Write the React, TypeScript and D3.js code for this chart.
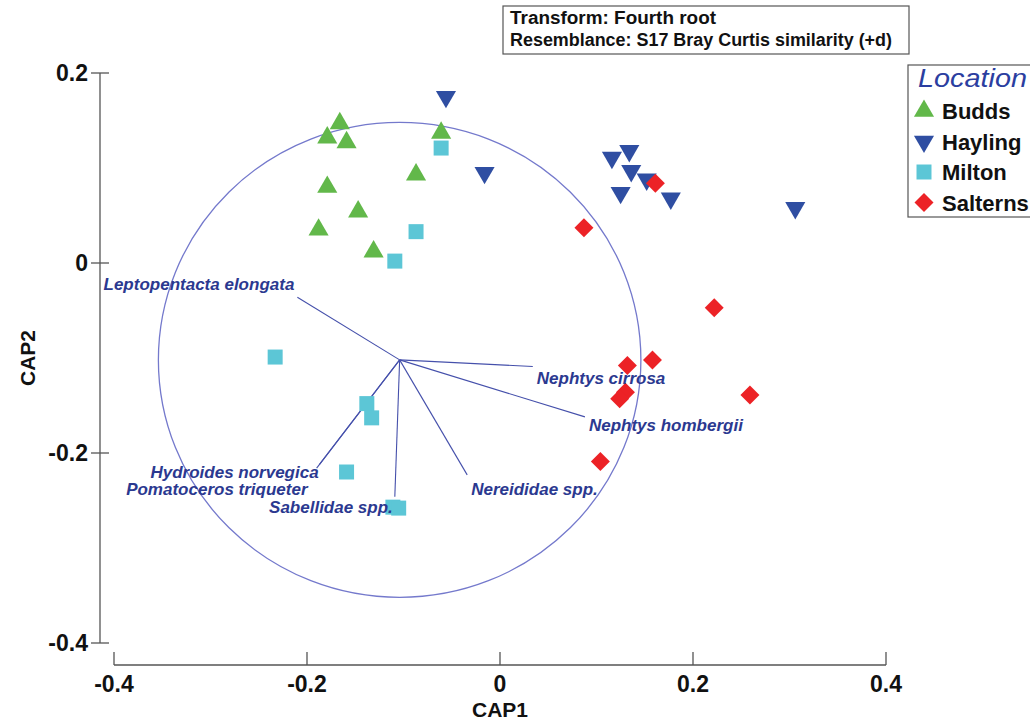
import React from "react";
import * as d3 from "d3";

// ---- data ----
const buddsX = [-0.166, -0.179, -0.159, -0.179, -0.147, -0.188, -0.131, -0.087, -0.061];
const buddsY = [0.147, 0.132, 0.127, 0.080, 0.054, 0.035, 0.012, 0.093, 0.137];
const haylingX = [-0.056, -0.016, 0.116, 0.134, 0.136, 0.152, 0.125, 0.177, 0.306];
const haylingY = [0.175, 0.095, 0.111, 0.118, 0.097, 0.088, 0.074, 0.068, 0.058];
const miltonX = [-0.061, -0.087, -0.109, -0.233, -0.138, -0.133, -0.159, -0.111, -0.105];
const miltonY = [0.121, 0.033, 0.002, -0.099, -0.148, -0.163, -0.220, -0.257, -0.258];
const salternsX = [0.161, 0.087, 0.222, 0.158, 0.132, 0.130, 0.124, 0.259, 0.104];
const salternsY = [0.084, 0.037, -0.047, -0.102, -0.108, -0.136, -0.143, -0.139, -0.209];

const locations = ["Budds", "Hayling", "Milton", "Salterns"];

const vectorOrigin = [-0.104, -0.102];
const circleRadius = 0.25;
const speciesNames = [
  "Leptopentacta elongata",
  "Nephtys cirrosa",
  "Nephtys hombergii",
  "Nereididae spp.",
  "Sabellidae spp.",
  "Hydroides norvegica",
  "Pomatoceros triqueter",
];
const speciesX = [-0.210, 0.034, 0.088, -0.034, -0.109, -0.190, -0.187];
const speciesY = [-0.036, -0.109, -0.162, -0.223, -0.246, -0.216, -0.212];

const xTicks = [-0.4, -0.2, 0, 0.2, 0.4];
const yTicks = [-0.4, -0.2, 0, 0.2];
const infoLines = ["Transform: Fourth root", "Resemblance: S17 Bray Curtis similarity (+d)"];

// ---- styling ----
const colors: Record<string, string> = {
  Budds: "#62b84a",
  Hayling: "#2f4ea2",
  Milton: "#5cc6d6",
  Salterns: "#ec2226",
};
const FONT = "'Liberation Sans', Arial, Helvetica, sans-serif";
const VEC = "#4550ab";
const LABEL = "#2b3990";

// label placement relative to vector tip (px): dx, dy, anchor
const labelOffsets: [number, number, string][] = [
  [-3, -7, "end"],
  [4, 17, "start"],
  [4, 14, "start"],
  [4, 20, "start"],
  [-2, 16, "end"],
  [2, 10, "end"],
  [-12, 31, "end"],
];

function markerPath(loc: string): { d: string; rot: number } {
  if (loc === "Budds") return { d: d3.symbol(d3.symbolTriangle, 175)() as string, rot: 0 };
  if (loc === "Hayling") return { d: d3.symbol(d3.symbolTriangle, 175)() as string, rot: 180 };
  if (loc === "Milton") return { d: d3.symbol(d3.symbolSquare, 225)() as string, rot: 0 };
  return { d: d3.symbol(d3.symbolSquare, 180)() as string, rot: 45 };
}

export default function App() {
  const x = d3.scaleLinear().domain([-0.4, 0.4]).range([114, 886]);
  const y = d3.scaleLinear().domain([-0.4, 0.2]).range([643, 73]);

  const series = [
    { loc: "Budds", xs: buddsX, ys: buddsY },
    { loc: "Hayling", xs: haylingX, ys: haylingY },
    { loc: "Milton", xs: miltonX, ys: miltonY },
    { loc: "Salterns", xs: salternsX, ys: salternsY },
  ];

  const ox = x(vectorOrigin[0]);
  const oy = y(vectorOrigin[1]);
  const rx = x(vectorOrigin[0] + circleRadius) - ox;
  const ry = oy - y(vectorOrigin[1] + circleRadius);

  const xAxisY = 665;
  const yAxisX = 100;

  return (
    <svg
      width={1030}
      height={721}
      style={{ position: "absolute", left: 0, top: 0, background: "#fff" }}
      fontFamily={FONT}
    >
      {/* info box */}
      <rect x={503} y={6} width={406} height={48} fill="#fff" stroke="#555" strokeWidth={1.2} />
      {infoLines.map((t, i) => (
        <text key={t} x={510} y={24 + i * 22} fontSize={17.5} fontWeight="bold" fill="#111"
          textLength={i === 0 ? 206 : 382} lengthAdjust="spacingAndGlyphs">
          {t}
        </text>
      ))}

      {/* y axis */}
      <line x1={yAxisX} x2={yAxisX} y1={y(0.2)} y2={y(-0.4)} stroke="#555" strokeWidth={1.3} />
      {yTicks.map((t) => (
        <g key={"y" + t}>
          <line x1={yAxisX - 9} x2={yAxisX + 9} y1={y(t)} y2={y(t)} stroke="#555" strokeWidth={1.3} />
          <text x={yAxisX - 12} y={y(t) + 8} textAnchor="end" fontSize={23} fontWeight="bold" fill="#111">
            {String(t)}
          </text>
        </g>
      ))}
      <text
        transform={`translate(35, ${y(-0.1)}) rotate(-90)`}
        textAnchor="middle"
        fontSize={21}
        fontWeight="bold"
        fill="#111"
      >
        CAP2
      </text>

      {/* x axis */}
      <line x1={x(-0.4)} x2={x(0.4)} y1={xAxisY} y2={xAxisY} stroke="#555" strokeWidth={1.3} />
      {xTicks.map((t) => (
        <g key={"x" + t}>
          <line x1={x(t)} x2={x(t)} y1={xAxisY - 13} y2={xAxisY} stroke="#555" strokeWidth={1.3} />
          <text x={x(t)} y={xAxisY + 27} textAnchor="middle" fontSize={23} fontWeight="bold" fill="#111">
            {String(t)}
          </text>
        </g>
      ))}
      <text x={x(0)} y={xAxisY + 52} textAnchor="middle" fontSize={21} fontWeight="bold" fill="#111">
        CAP1
      </text>

      {/* circle */}
      <ellipse cx={ox} cy={oy} rx={rx} ry={ry} fill="none" stroke="#7479cc" strokeWidth={1.3} />

      {/* vectors */}
      {speciesNames.map((n, i) => (
        <line
          key={"v" + n}
          x1={ox}
          y1={oy}
          x2={x(speciesX[i])}
          y2={y(speciesY[i])}
          stroke={VEC}
          strokeWidth={1.1}
        />
      ))}

      {/* points */}
      {series.map((s) =>
        s.xs.map((vx, i) => {
          const m = markerPath(s.loc);
          return (
            <path
              key={s.loc + i}
              d={m.d}
              transform={`translate(${x(vx)},${y(s.ys[i])}) rotate(${m.rot})`}
              fill={colors[s.loc]}
            />
          );
        })
      )}

      {/* vector labels */}
      {speciesNames.map((n, i) => (
        <text
          key={"l" + n}
          x={x(speciesX[i]) + labelOffsets[i][0]}
          y={y(speciesY[i]) + labelOffsets[i][1]}
          textAnchor={labelOffsets[i][2] as any}
          fontSize={17}
          fontWeight="bold"
          fontStyle="italic"
          fill={LABEL}
        >
          {n}
        </text>
      ))}

      {/* legend */}
      <rect x={908} y={65} width={130} height={152} fill="#fff" stroke="#555" strokeWidth={1.2} />
      <text x={918} y={87} fontSize={26} fontStyle="italic" fill="#2b3ea0"
        textLength={109} lengthAdjust="spacingAndGlyphs">
        Location
      </text>
      {locations.map((loc, i) => {
        const m = markerPath(loc);
        const cy = 111 + i * 30.5;
        return (
          <g key={"lg" + loc}>
            <path d={m.d} transform={`translate(924,${cy}) rotate(${m.rot})`} fill={colors[loc]} />
            <text x={942} y={cy + 8} fontSize={22} fontWeight="bold" fill="#111">
              {loc}
            </text>
          </g>
        );
      })}
    </svg>
  );
}
